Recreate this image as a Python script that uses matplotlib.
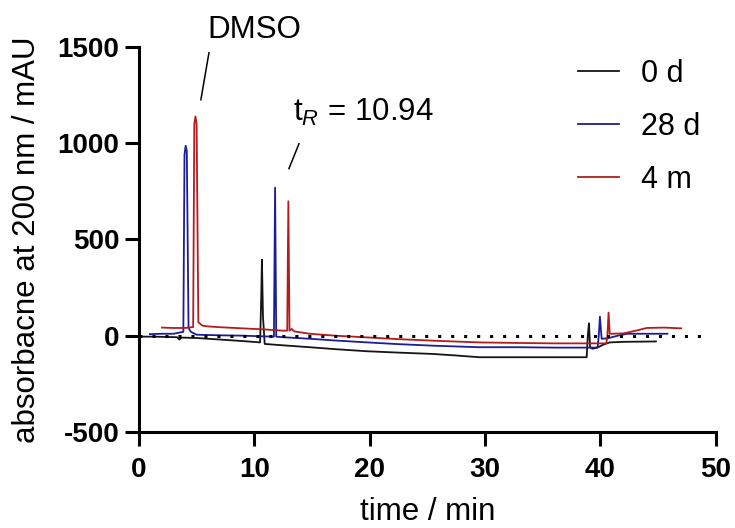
import matplotlib
matplotlib.use("Agg")
import matplotlib.pyplot as plt

plt.rcParams['font.family'] = ['Liberation Sans', 'DejaVu Sans']
plt.rcParams['mathtext.fontset'] = 'custom'
plt.rcParams['mathtext.rm'] = 'Liberation Sans'
plt.rcParams['mathtext.it'] = 'Liberation Sans:italic'
plt.rcParams['axes.unicode_minus'] = False

# chromatogram traces: time (min), absorbance (mAU)
t_0d = [0.35, 1.0, 2.0, 3.3, 3.5, 3.7, 5.0, 7.0, 9.0, 10.5, 10.6, 10.66, 10.75, 10.9,
        12.0, 14.8, 17.0, 19.8, 22.5, 25.5, 27.5, 29.5, 33.0, 36.0, 38.8, 38.9, 39.0,
        39.1, 39.3, 39.8, 40.3, 40.8, 42.0, 44.8]
a_0d = [-5, -5, -6, -8, -20, -10, -12, -20, -28, -35, 200, 395, 100, -43,
        -48, -60, -70, -81, -88, -95, -103, -112, -112, -112, -112, 0, 64,
        -60, -68, -60, -45, -35, -32, -30]

t_28d = [0.95, 2.0, 3.0, 3.85, 3.95, 4.05, 4.15, 4.3, 4.5, 5.0, 7.0, 9.0, 10.5, 11.7,
         11.8, 11.9, 12.5, 14.8, 17.0, 19.8, 22.5, 25.5, 29.5, 33.0, 36.0, 38.0, 39.75,
         39.85, 39.95, 40.1, 40.6, 41.5, 42.3, 44.0, 45.8]
a_28d = [8, 10, 10, 20, 940, 987, 960, 40, 20, 5, 2, 0, -3, -5,
         769, -5, -8, -16, -25, -35, -44, -52, -60, -60, -62, -62, -62,
         0, 99, -16, -14, 0, 10, 10, 10]

t_4m = [2.0, 3.0, 4.0, 4.7, 4.8, 4.9, 5.0, 5.15, 5.5, 6.0, 7.0, 9.0, 11.0, 12.5, 12.85,
        12.95, 13.05, 13.25, 13.35, 13.5, 14.8, 17.0, 19.8, 22.5, 25.5, 29.5, 33.0, 36.0,
        38.0, 40.5, 40.6, 40.7, 40.8, 41.0, 42.0, 43.0, 44.0, 45.5, 47.0]
a_4m = [42, 40, 40, 45, 1100, 1139, 1100, 70, 52, 48, 44, 38, 32, 26, 26,
        698, 26, 35, 28, 22, 10, 0, -9, -18, -26, -35, -38, -40,
        -40, -40, 0, 120, 10, 10, 12, 25, 40, 42, 38]

labels = ['0 d', '28 d', '4 m']
colors = ['#141414', '#1c1c96', '#b41c1c']
zero_line = [0, 0]
zero_span = [0, 49.5]

fig = plt.figure(figsize=(7.35, 5.28), dpi=100)
ax = fig.add_axes([0.189, 0.182, 0.785, 0.729])

for t, a, lab, col in zip([t_0d, t_28d, t_4m], [a_0d, a_28d, a_4m], labels, colors):
    ax.plot(t, a, color=col, lw=1.3, label=lab)

ax.plot(zero_span, zero_line, color='black', lw=2.2, dashes=(1, 3.25),
        solid_capstyle='butt', dash_capstyle='butt')

ax.set_xlim(0, 50)
ax.set_ylim(-500, 1500)
ax.set_xticks([0, 10, 20, 30, 40, 50])
ax.set_yticks([-500, 0, 500, 1000, 1500])
for s in ['top', 'right']:
    ax.spines[s].set_visible(False)
for s in ['left', 'bottom']:
    ax.spines[s].set_linewidth(2.2)
ax.tick_params(length=10, width=2.2, labelsize=20, pad=4)
ax.tick_params(axis='x', pad=8)
for lbl in ax.get_xticklabels() + ax.get_yticklabels():
    lbl.set_fontweight('bold')

ax.set_xlabel('time / min', fontsize=22.5)
ax.set_ylabel('absorbacne at 200 nm / mAU', fontsize=22.5)
ax.xaxis.set_label_coords(0.5, -0.17)
ax.yaxis.set_label_coords(-0.168, 0.5)

# annotations
ax.plot([5.37, 6.07], [1226, 1470], color='black', lw=1.1, clip_on=False)
ax.text(5.9, 1590, 'DMSO', fontsize=22.5, va='center', ha='left')
ax.plot([13.0, 13.87], [868, 997], color='black', lw=1.1, clip_on=False)
ax.text(13.35, 1160, 't$_{\\mathit{R}}$ = 10.94', fontsize=22.5, va='center', ha='left')

ax.legend(loc='upper left', bbox_to_anchor=(0.713, 1.04), frameon=False,
          fontsize=22, handlelength=1.35, handletextpad=0.72, labelspacing=0.75)

fig.savefig('out.png', dpi=100)
